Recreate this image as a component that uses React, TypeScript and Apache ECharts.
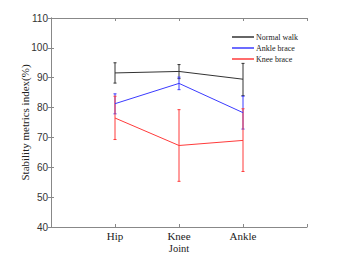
import React, { useEffect, useRef } from "react";
import * as echarts from "echarts";

const categories = ["Hip", "Knee", "Ankle"];
const seriesNames = ["Normal walk", "Ankle brace", "Knee brace"];
const normalMean = [91.6, 92.1, 89.5];
const normalLow = [88.2, 89.7, 84.0];
const normalHigh = [95.0, 94.4, 94.8];
const ankleMean = [81.3, 88.1, 78.3];
const ankleLow = [77.9, 86.0, 72.8];
const ankleHigh = [84.6, 90.2, 83.8];
const kneeMean = [76.5, 67.3, 69.0];
const kneeLow = [69.3, 55.3, 58.6];
const kneeHigh = [83.8, 79.3, 79.6];
const yTicks = [40, 50, 60, 70, 80, 90, 100, 110];

const colors = ["#333333", "#3b3bff", "#ff3b3b"];

export default function App() {
  const ref = useRef<HTMLDivElement>(null);
  useEffect(() => {
    const chart = echarts.init(ref.current!, undefined, { renderer: "svg" });
    const means = [normalMean, ankleMean, kneeMean];
    const lows = [normalLow, ankleLow, kneeLow];
    const highs = [normalHigh, ankleHigh, kneeHigh];
    const lineSeries = seriesNames.map((name, i) => ({
      name,
      type: "line",
      data: means[i].map((v, j) => [j + 1, v]),
      symbol: "none",
      lineStyle: { color: colors[i], width: 1 },
      itemStyle: { color: colors[i] },
      z: 3,
    }));
    const errSeries = seriesNames.map((name, i) => ({
      name: name + " err",
      type: "custom",
      data: lows[i].map((lo, j) => [j + 1, lo, highs[i][j]]),
      z: 2,
      renderItem: (params: any, api: any) => {
        const x = api.value(0);
        const lo = api.coord([x, api.value(1)]);
        const hi = api.coord([x, api.value(2)]);
        const c = 1.5;
        const style = { stroke: colors[i], lineWidth: 1 };
        return {
          type: "group",
          children: [
            { type: "line", shape: { x1: lo[0], y1: lo[1], x2: hi[0], y2: hi[1] }, style },
            { type: "line", shape: { x1: lo[0] - c, y1: lo[1], x2: lo[0] + c, y2: lo[1] }, style },
            { type: "line", shape: { x1: hi[0] - c, y1: hi[1], x2: hi[0] + c, y2: hi[1] }, style },
          ],
        };
      },
    }));
    const axisLine = { show: true, lineStyle: { color: "#888", width: 1 } };
    chart.setOption({
      animation: false,
      backgroundColor: "#fff",
      grid: { left: 51, right: 56, top: 18, bottom: 44 },
      legend: {
        data: seriesNames,
        orient: "vertical",
        left: 227,
        top: 28,
        itemWidth: 22,
        itemHeight: 1.5,
        itemGap: 3,
        icon: "rect",
        textStyle: { fontFamily: "Liberation Serif", fontSize: 8, color: "#222", padding: [0, 0, 0, -3] },
      },
      xAxis: [
        {
          type: "value",
          min: 0,
          max: 4,
          interval: 1,
          name: "Joint",
          nameLocation: "middle",
          nameGap: 16,
          nameMoveOverlap: false,
          nameTextStyle: { fontFamily: "Liberation Serif", fontSize: 10.5, color: "#222" },
          axisLine,
          axisTick: { show: true, inside: true, length: 3, lineStyle: { color: "#888" } },
          splitLine: { show: false },
          axisLabel: {
            margin: 3,
            fontFamily: "Liberation Serif",
            fontSize: 11,
            color: "#222",
            formatter: (v: number) => (v >= 1 && v <= 3 ? categories[v - 1] : ""),
          },
        },
        {
          type: "value",
          position: "top",
          min: 0,
          max: 4,
          interval: 1,
          axisLine,
          axisTick: { show: true, inside: true, length: 3, lineStyle: { color: "#888" } },
          axisLabel: { show: false },
          splitLine: { show: false },
        },
      ],
      yAxis: [
        {
          type: "value",
          min: yTicks[0],
          max: yTicks[yTicks.length - 1],
          interval: 10,
          name: "Stability metrics index(%)",
          nameLocation: "middle",
          nameGap: 21,
          nameMoveOverlap: false,
          nameTextStyle: { fontFamily: "Liberation Serif", fontSize: 11, color: "#222" },
          axisLine,
          axisTick: { show: true, inside: true, length: 3, lineStyle: { color: "#888" } },
          splitLine: { show: false },
          axisLabel: { margin: 3, fontFamily: "Liberation Sans", fontSize: 10, color: "#333" },
        },
        {
          type: "value",
          position: "right",
          min: yTicks[0],
          max: yTicks[yTicks.length - 1],
          interval: 10,
          axisLine,
          axisTick: { show: true, inside: true, length: 3, lineStyle: { color: "#888" } },
          axisLabel: { show: false },
          splitLine: { show: false },
        },
      ],
      series: [...errSeries, ...lineSeries],
    });
    return () => chart.dispose();
  }, []);
  return <div ref={ref} style={{ width: 363, height: 271, position: "absolute", left: 0, top: 0 }} />;
}
